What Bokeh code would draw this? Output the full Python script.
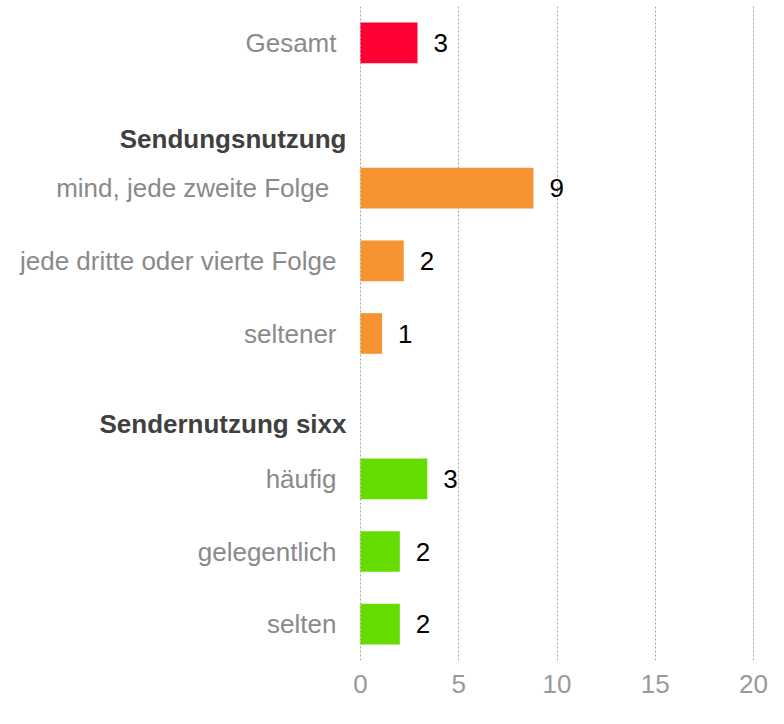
from bokeh.plotting import figure
from bokeh.models import Range1d, FixedTicker, ColumnDataSource
from bokeh.embed import file_html
from bokeh.resources import INLINE
from bokeh.core.properties import value

# ---- data ----
categories = ["Gesamt", "mind, jede zweite Folge\u00a0", "jede dritte oder vierte Folge",
              "seltener", "häufig", "gelegentlich", "selten"]
values = [2.9, 8.8, 2.2, 1.1, 3.4, 2.0, 2.0]
value_labels = ["3", "9", "2", "1", "3", "2", "2"]
groups = ["total", "sendung", "sendung", "sendung", "sender", "sender", "sender"]
group_headers = ["Sendungsnutzung", "Sendernutzung sixx"]
x_ticks = [0, 5, 10, 15, 20]

# ---- layout (row slots, gaps for headers) ----
rows = [0, 2, 3, 4, 6, 7, 8]
header_rows = [1.32, 5.25]
color_map = {"total": "#FF0033", "sendung": "#F79431", "sender": "#64DC00"}
colors = [color_map[g] for g in groups]

FONT = "Liberation Sans"
W, H = 768, 708
ZERO_PX = 360          # pixel position of the value 0
PX_PER_UNIT = 19.65

src = ColumnDataSource(dict(y=rows, v=values, lab=value_labels, c=colors,
                            cat=categories))
hdr_src = ColumnDataSource(dict(y=header_rows, t=group_headers))

p = figure(width=W, height=H,
           x_range=Range1d(-ZERO_PX / PX_PER_UNIT, (W - ZERO_PX) / PX_PER_UNIT),
           y_range=Range1d(8.5, -0.5),
           output_backend="svg", toolbar_location=None,
           min_border_left=0, min_border_right=0,
           min_border_top=6, min_border_bottom=48)
p.outline_line_color = None
p.background_fill_color = "white"
p.border_fill_color = "white"

p.hbar(y="y", left=0, right="v", height=0.56, fill_color="c",
       line_color=None, source=src)
# value labels
p.text(x="v", y="y", text="lab", source=src, x_offset=16,
       text_baseline="middle", text_align="left",
       text_font=value(FONT), text_font_size="26px", text_color="black")
# category labels
p.text(x=0, y="y", text="cat", source=src, x_offset=-24,
       text_baseline="middle", text_align="right",
       text_font=value(FONT), text_font_size="26px", text_color="#8A8A8A")
# group headers
p.text(x=0, y="y", text="t", source=hdr_src, x_offset=-14,
       text_baseline="middle", text_align="right",
       text_font=value(FONT), text_font_size="26px",
       text_font_style="bold", text_color="#404040")

# x axis
p.xaxis.ticker = FixedTicker(ticks=x_ticks)
p.xaxis.axis_line_color = None
p.xaxis.major_tick_line_color = None
p.xaxis.minor_tick_line_color = None
p.xaxis.major_tick_out = 0
p.xaxis.major_tick_in = 0
p.xaxis.major_label_standoff = 14
p.xaxis.major_label_text_font = FONT
p.xaxis.major_label_text_font_size = "26px"
p.xaxis.major_label_text_color = "#999999"

p.yaxis.visible = False

# grid
p.ygrid.grid_line_color = None
p.xgrid.grid_line_color = "#A0A0A0"
p.xgrid.grid_line_dash = "2 2"
p.xgrid.grid_line_width = 1

open("out.html", "w").write(file_html(p, INLINE))
